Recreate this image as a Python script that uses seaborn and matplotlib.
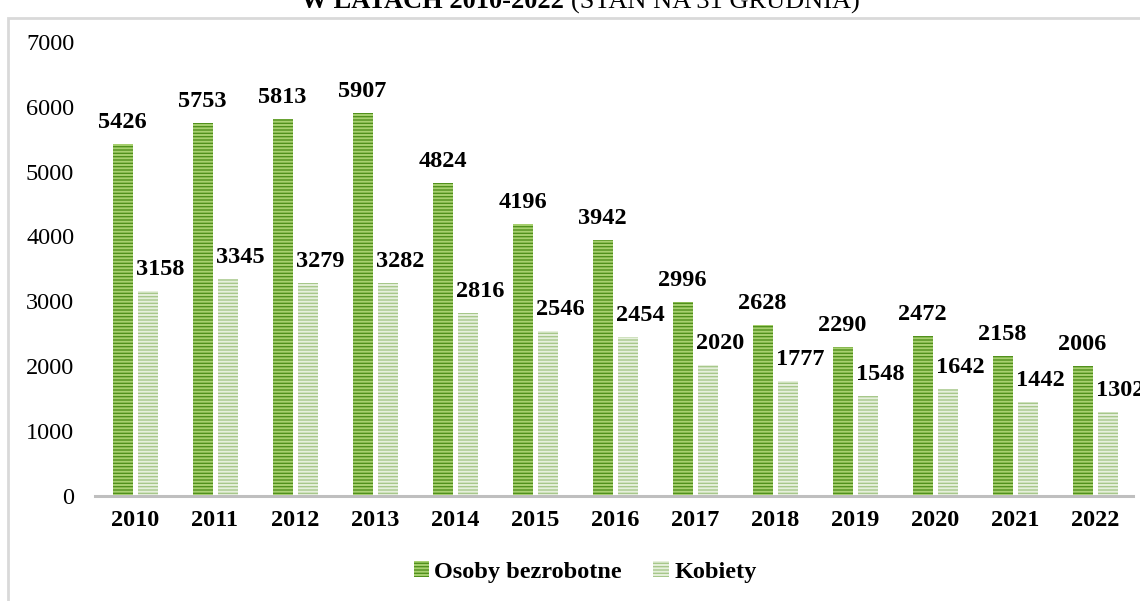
import matplotlib
matplotlib.use("Agg")
import matplotlib.pyplot as plt
import seaborn as sns
import pandas as pd
from matplotlib.patches import Rectangle, Patch

years = ["2010", "2011", "2012", "2013", "2014", "2015", "2016",
         "2017", "2018", "2019", "2020", "2021", "2022"]
unemployed = [5426, 5753, 5813, 5907, 4824, 4196, 3942, 2996, 2628, 2290, 2472, 2158, 2006]
women = [3158, 3345, 3279, 3282, 2816, 2546, 2454, 2020, 1777, 1548, 1642, 1442, 1302]
series_names = ["Osoby bezrobotne", "Kobiety"]
y_ticks = [0, 1000, 2000, 3000, 4000, 5000, 6000, 7000]

df = pd.DataFrame({
    "Rok": years * 2,
    "Seria": [series_names[0]] * len(years) + [series_names[1]] * len(years),
    "Liczba": unemployed + women,
})

sns.set_theme(style="white")
plt.rcParams["font.family"] = ["Liberation Serif", "DejaVu Serif"]
plt.rcParams["hatch.linewidth"] = 1.4
plt.rcParams["text.color"] = "black"
plt.rcParams["xtick.color"] = "black"
plt.rcParams["ytick.color"] = "black"

face = {series_names[0]: "#50901C", series_names[1]: "#A6C78A"}
stripe = {series_names[0]: "#A8D070", series_names[1]: "#E6F0DC"}

FS = 17.5

fig = plt.figure(figsize=(11.4, 6.01), dpi=100)
ax = fig.add_axes([95 / 1140, 105 / 601, 1040 / 1140, (496 - 41.7) / 601])

sns.barplot(data=df, x="Rok", y="Liczba", hue="Seria", hue_order=series_names,
            palette=face, width=0.625, gap=0.2, legend=False, ax=ax,
            saturation=1)

for cont, name in zip(ax.containers, series_names):
    for bar in cont:
        bar.set_hatch("-----")
        bar.set_edgecolor(stripe[name])
        bar.set_linewidth(0)

# data labels
for cont, name in zip(ax.containers, series_names):
    dx = 0 if name == series_names[0] else 9
    for bar in cont:
        h = bar.get_height()
        ax.annotate(f"{int(round(h))}", xy=(bar.get_x() + bar.get_width() / 2, h),
                    xytext=(dx, 11.5), textcoords="offset points",
                    ha="center", va="baseline", fontsize=FS, fontweight="bold",
                    color="black", annotation_clip=False)

ax.set_ylim(0, 7000)
ax.set_xlim(-0.5, len(years) - 0.5)
ax.set_yticks(y_ticks)
ax.set_yticklabels([str(t) for t in y_ticks], fontsize=FS)
ax.tick_params(axis="y", length=0, pad=15)
ax.tick_params(axis="x", length=0, pad=10)
for lab in ax.get_xticklabels():
    lab.set_fontweight("bold")
    lab.set_fontsize(FS)
ax.set_xlabel("")
ax.set_ylabel("")
for s in ["top", "right", "left"]:
    ax.spines[s].set_visible(False)
ax.spines["bottom"].set_color("#BFBFBF")
ax.spines["bottom"].set_linewidth(2.2)
ax.spines["bottom"].set_bounds(-0.5, 12.47)
ax.set_facecolor("none")

handles = [Patch(facecolor=face[n], edgecolor=stripe[n], hatch="-----", linewidth=0)
           for n in series_names]
fig.legend(handles, series_names, loc="center", bbox_to_anchor=(585 / 1140, 1 - 572 / 601),
           ncol=2, frameon=False, prop={"weight": "bold", "size": FS},
           handlelength=0.65, handleheight=0.65, handletextpad=0.2, columnspacing=1.3)

# outer chart border
fig.patches.append(Rectangle((8 / 1140, -0.05), 1.2, 1 - 18 / 601 + 0.05,
                             transform=fig.transFigure, fill=False,
                             edgecolor="#D9D9D9", linewidth=2, zorder=0))

# partially cut title
fig.text(564 / 1140, 1 - 8.5 / 601, "W LATACH 2010-2022", ha="right", va="baseline",
         fontsize=19, fontweight="bold")
fig.text(571 / 1140, 1 - 8.5 / 601, "(STAN NA 31 GRUDNIA)", ha="left", va="baseline",
         fontsize=19)

fig.savefig("out.png", dpi=100)
